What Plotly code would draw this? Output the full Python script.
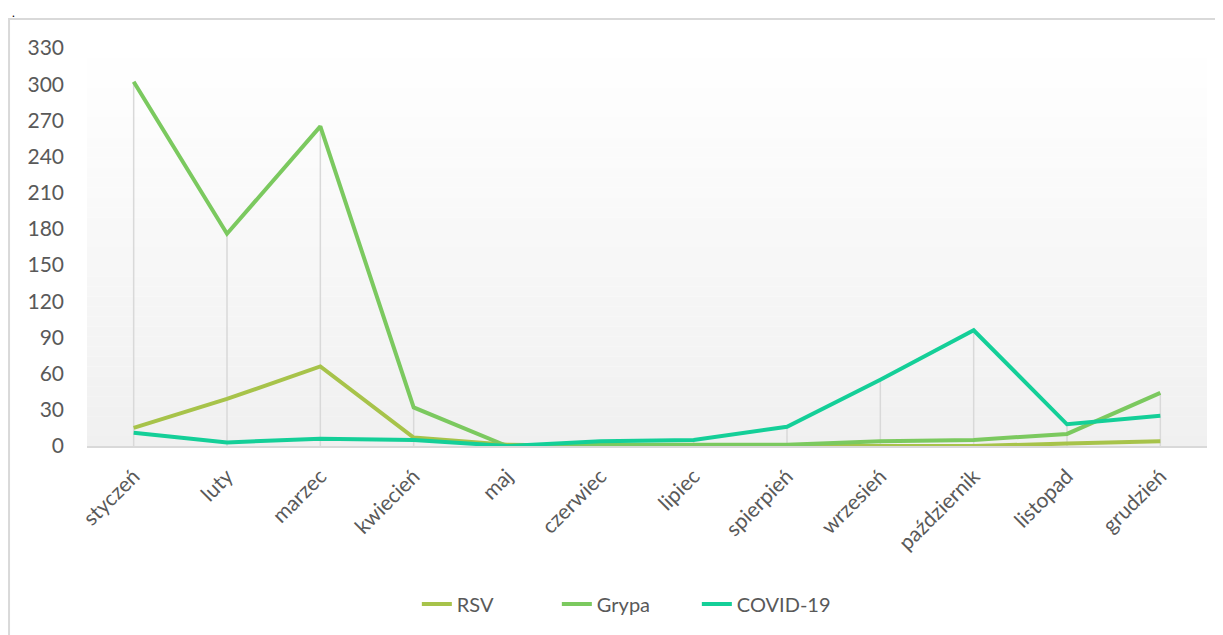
import plotly.graph_objects as go

# ── data ──────────────────────────────────────────────────────────────────────
months = ['styczeń', 'luty', 'marzec', 'kwiecień', 'maj', 'czerwiec', 'lipiec',
          'spierpień', 'wrzesień', 'październik', 'listopad', 'grudzień']
rsv    = [15, 39, 66, 7, 1, 0, 0, 0, 0, 0, 2, 4]
grypa  = [302, 176, 265, 32, 0, 1, 1, 1, 4, 5, 10, 44]
covid  = [11, 3, 6, 5, 0, 4, 5, 16, 55, 96, 18, 25]
y_ticks = list(range(0, 331, 30))

COLORS = {'RSV': '#a7c34a', 'Grypa': '#7bc95f', 'COVID-19': '#14cf98'}
FONT = 'Lato'
GREY = '#595959'

fig = go.Figure()

# drop lines from the highest value down to the axis
drop_x, drop_y = [], []
for m, a, b, c in zip(months, rsv, grypa, covid):
    drop_x += [m, m, None]
    drop_y += [max(a, b, c), 0, None]
fig.add_trace(go.Scatter(x=drop_x, y=drop_y, mode='lines',
                         line=dict(color='#d9d9d9', width=1.5),
                         hoverinfo='skip', showlegend=False))

for name, vals in [('RSV', rsv), ('Grypa', grypa), ('COVID-19', covid)]:
    fig.add_trace(go.Scatter(x=months, y=vals, mode='lines', name=name,
                             line=dict(color=COLORS[name], width=4)))

# gradient background of the plot area (white -> light grey)
shapes = []
n = 40
for i in range(n):
    t = (i + 0.5) / n
    g = int(round(255 - (255 - 240) * t))
    shapes.append(dict(type='rect', xref='x domain', yref='y domain',
                       x0=0, x1=1, y0=1 - (i + 1) / n, y1=1 - i / n,
                       fillcolor=f'rgb({g},{g},{g})', line_width=0, layer='below'))
# outer chart border
shapes.append(dict(type='rect', xref='paper', yref='paper',
                   x0=-0.0696, x1=1.05, y0=-0.6, y1=1.0729,
                   line=dict(color='#d9d9d9', width=2), fillcolor='rgba(0,0,0,0)'))

fig.update_layout(
    width=1223, height=635,
    margin=dict(l=79, r=24, t=40, b=197),
    paper_bgcolor='white', plot_bgcolor='white',
    font=dict(family=FONT, size=21, color=GREY),
    shapes=shapes,
    showlegend=True,
    legend=dict(orientation='h', x=0.482, xanchor='center', y=-0.397, yanchor='middle',
                font=dict(family=FONT, size=20, color=GREY),
                itemwidth=30, entrywidth=95),
    annotations=[dict(text='.', xref='paper', yref='paper', x=-0.069, y=1.088,
                      xanchor='left', yanchor='middle', showarrow=False,
                      font=dict(family=FONT, size=12, color='black'))],
)

fig.update_xaxes(type='category', range=[-0.5, len(months) - 0.5], automargin=False,
                 showgrid=False, showline=True, linecolor='#d9d9d9',
                 linewidth=1.5, tickangle=-45, ticks='', ticklabelstandoff=8,
                 tickfont=dict(family=FONT, size=21, color=GREY), zeroline=False)
fig.update_yaxes(range=[0, 330], tickvals=y_ticks, showgrid=False, zeroline=False,
                 automargin=False, showline=False, ticks='', ticklabelstandoff=22,
                 tickfont=dict(family=FONT, size=21, color=GREY))

fig.write_html('out.html')
